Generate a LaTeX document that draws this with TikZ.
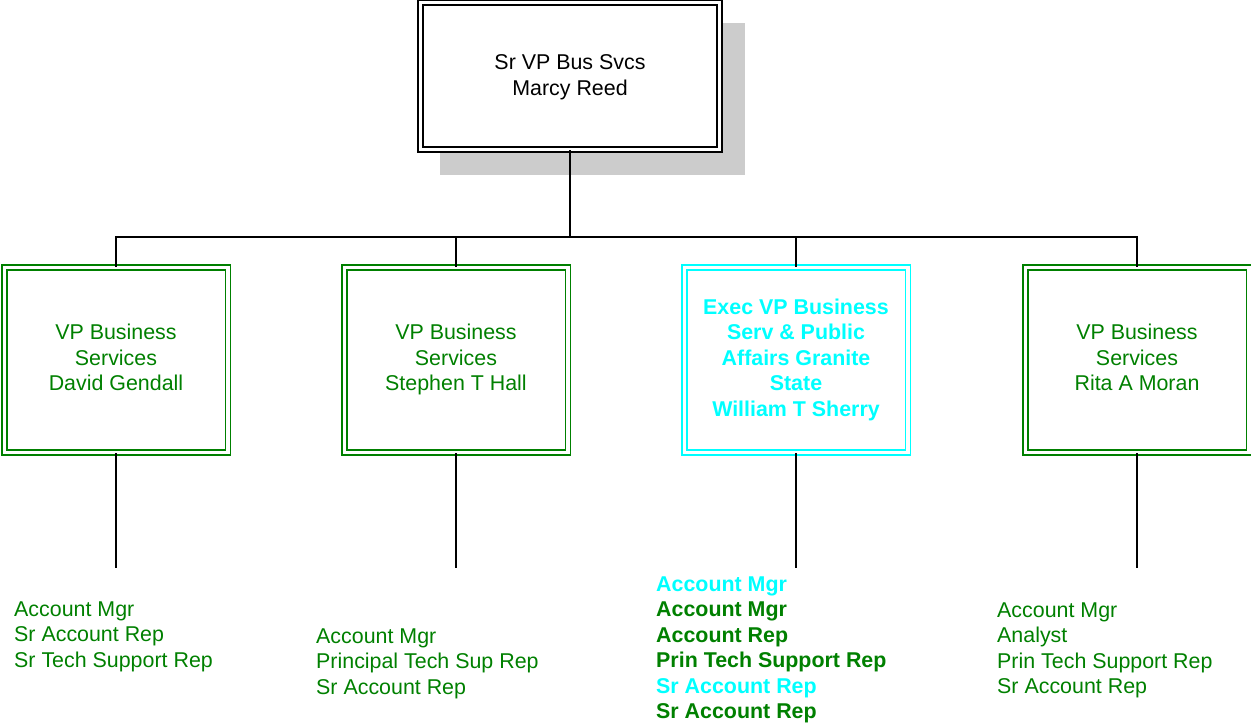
\documentclass[tikz,border=0pt]{standalone}
\usepackage{fontspec}
\setmainfont{Liberation Sans}
\definecolor{og}{RGB}{0,128,0}
\definecolor{oc}{RGB}{0,255,255}
\definecolor{shadowgray}{RGB}{204,204,204}
\begin{document}
\begin{tikzpicture}[x=1pt,y=-1pt,
  every node/.style={font=\fontsize{21.4}{25.5}\selectfont},
  topbox/.style={draw=black,fill=white,line width=1.5pt,double=white,double distance=3.5pt,minimum width=299pt,minimum height=147pt,align=center,inner sep=0pt},
  vpbox/.style={draw=og,text=og,fill=white,line width=1.5pt,double=white,double distance=3.5pt,minimum width=223.5pt,minimum height=185pt,align=center,inner sep=0pt},
  evpbox/.style={vpbox,draw=oc,text=oc,font=\fontsize{21.4}{25.5}\selectfont\bfseries},
  item/.style={anchor=base west,inner sep=0pt,text=og},
  bitem/.style={item,font=\fontsize{21.4}{25.5}\selectfont\bfseries},
  conn/.style={line width=1.8pt,black}]
\useasboundingbox (0,0) rectangle (1251,726);
\fill[shadowgray] (440,23) rectangle (745,175);
\node[topbox] (top) at (570,76) {};
\node[align=center,inner sep=0pt] (toptext) at (570,77.5) {\strut Sr VP Bus Svcs\\Marcy Reed\strut};
\node[vpbox] (b1) at (116,360) {\strut VP Business\\Services\\David Gendall\strut};
\node[vpbox] (b2) at (456,360) {\strut VP Business\\Services\\Stephen T Hall\strut};
\node[evpbox] (b3) at (796,360) {\strut Exec VP Business\\Serv \& Public\\Affairs Granite\\State\\William T Sherry\strut};
\node[vpbox] (b4) at (1137,360) {\strut VP Business\\Services\\Rita A Moran\strut};
\coordinate (j) at (570,237);
\draw[conn] (top.south) -- (j);
\draw[conn] (b1.north) |- (j) -| (b4.north);
\draw[conn] (b2.north) -- (b2.north |- j);
\draw[conn] (b3.north) -- (b3.north |- j);
\coordinate (e1) at (116,568);
\coordinate (e2) at (456,568);
\coordinate (e3) at (796,568);
\coordinate (e4) at (1137,568);
\draw[conn] (b1.south) -- (e1);
\draw[conn] (b2.south) -- (e2);
\draw[conn] (b3.south) -- (e3);
\draw[conn] (b4.south) -- (e4);
% lists
\node[item] (l1a) at (14,616) {Account Mgr};
\node[item] (l1b) at (14,641.5) {Sr Account Rep};
\node[item] (l1c) at (14,667) {Sr Tech Support Rep};
\node[item] (l2a) at (316,643) {Account Mgr};
\node[item] (l2b) at (316,668.5) {Principal Tech Sup Rep};
\node[item] (l2c) at (316,694) {Sr Account Rep};
\node[bitem,text=oc] (l3a) at (656,591) {Account Mgr};
\node[bitem] (l3b) at (656,616.5) {Account Mgr};
\node[bitem] (l3c) at (656,642) {Account Rep};
\node[bitem] (l3d) at (656,667.5) {Prin Tech Support Rep};
\node[bitem,text=oc] (l3e) at (656,693) {Sr Account Rep};
\node[bitem] (l3f) at (656,718.5) {Sr Account Rep};
\node[item] (l4a) at (997,617) {Account Mgr};
\node[item] (l4b) at (997,642.5) {Analyst};
\node[item] (l4c) at (997,668) {Prin Tech Support Rep};
\node[item] (l4d) at (997,693.5) {Sr Account Rep};
\end{tikzpicture}
\end{document}
